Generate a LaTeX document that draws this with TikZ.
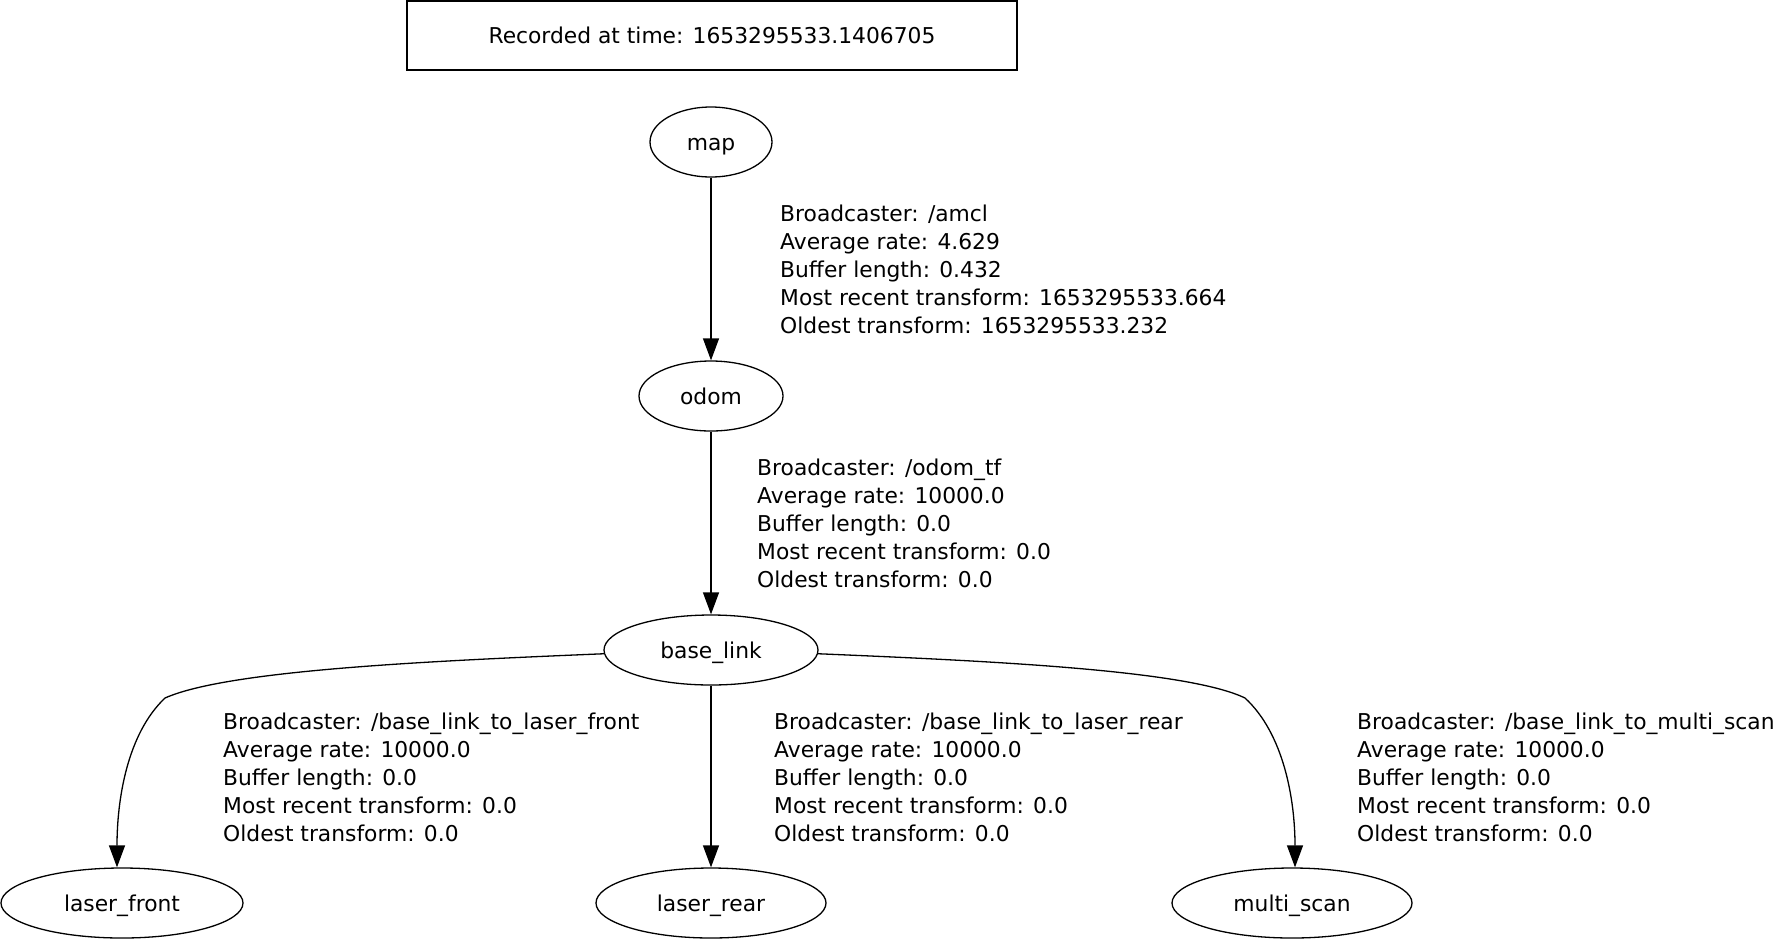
\documentclass[tikz,border=0pt]{standalone}
\usepackage{fontspec}
\setmainfont{DejaVu Sans}
\usetikzlibrary{arrows.meta,shapes.geometric}
\tikzset{
  frame/.style={ellipse, draw, line width=1.3pt, inner sep=0pt, text height=17pt, text depth=1pt},
  lbl/.style={anchor=west, align=left, inner sep=0pt},
  edge/.style={line width=1.3pt, -{Triangle[length=22pt,width=16pt]}},
}
\begin{document}
\begin{tikzpicture}[x=1pt,y=-1pt,font=\fontsize{21.8}{28}\selectfont]
\useasboundingbox (0,0) rectangle (1776,940);
\node[draw, line width=1.3pt, minimum width=610pt, minimum height=69pt, inner sep=0pt, text height=16.5pt, text depth=0pt] (title) at (712,35.5) {Recorded at time: 1653295533.1406705};
\node[frame, minimum width=122pt, minimum height=70pt] (map) at (711,142) {map};
\node[frame, minimum width=144pt, minimum height=70pt] (odom) at (711,396) {odom};
\node[frame, minimum width=214pt, minimum height=70pt] (bl) at (711,650) {base\_link};
\node[frame, minimum width=242pt, minimum height=70pt] (lf) at (122,903) {laser\_front};
\node[frame, minimum width=230pt, minimum height=70pt] (lr) at (711,903) {laser\_rear};
\node[frame, minimum width=240pt, minimum height=70pt] (ms) at (1292,903) {multi\_scan};
\draw[edge] (map) -- (odom);
\draw[edge] (odom) -- (bl);
\draw[edge] (bl) -- (lr);
\coordinate (lfc) at (165,698);
\coordinate (msc) at (1245,698);
\draw[edge] (bl.182) .. controls (430,661) and (228,670) .. (lfc) .. controls (127,734) and (117,800) .. ([xshift=-5pt]lf.north);
\draw[edge] (bl.358) .. controls (990,661) and (1187,670) .. (msc) .. controls (1284,734) and (1295,800) .. ([xshift=3pt]ms.north);
\node[lbl] (l1) at (780,269) {Broadcaster: /amcl\\Average rate: 4.629\\Buffer length: 0.432\\Most recent transform: 1653295533.664\\Oldest transform: 1653295533.232};
\node[lbl] (l2) at (757,523) {Broadcaster: /odom\_tf\\Average rate: 10000.0\\Buffer length: 0.0\\Most recent transform: 0.0\\Oldest transform: 0.0};
\node[lbl] (l3) at (223,777) {Broadcaster: /base\_link\_to\_laser\_front\\Average rate: 10000.0\\Buffer length: 0.0\\Most recent transform: 0.0\\Oldest transform: 0.0};
\node[lbl] (l4) at (774,777) {Broadcaster: /base\_link\_to\_laser\_rear\\Average rate: 10000.0\\Buffer length: 0.0\\Most recent transform: 0.0\\Oldest transform: 0.0};
\node[lbl] (l5) at (1357,777) {Broadcaster: /base\_link\_to\_multi\_scan\\Average rate: 10000.0\\Buffer length: 0.0\\Most recent transform: 0.0\\Oldest transform: 0.0};
\end{tikzpicture}
\end{document}
